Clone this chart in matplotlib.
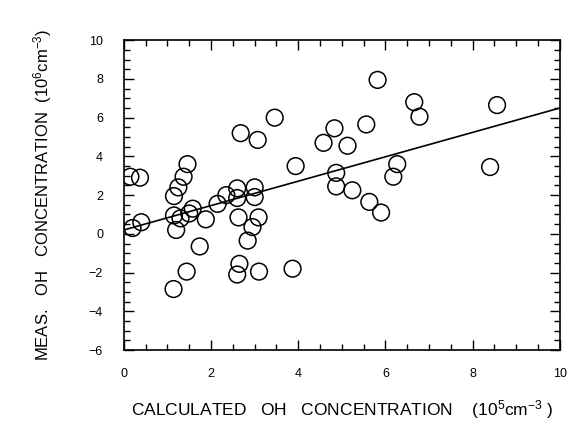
import numpy as np
import matplotlib
matplotlib.use("Agg")
import matplotlib.pyplot as plt
from matplotlib.ticker import MultipleLocator

# OH medido vs calculado, com reta de ajuste
calc_oh = [0.15, 0.37, 0.20, 0.40, 1.46, 1.37, 1.25, 1.15, 1.15, 1.30,
           1.20, 1.58, 1.50, 1.88, 2.15, 2.35, 2.60, 2.60, 3.00, 3.00,
           2.63, 3.09, 2.95, 2.84, 1.74, 1.44, 1.14, 2.65, 2.60, 3.10,
           3.87, 2.68, 3.07, 3.46, 3.94, 4.58, 4.83, 5.13, 5.56, 4.87,
           4.87, 5.24, 5.63, 5.90, 5.82, 6.66, 6.78, 8.56, 6.27, 6.18,
           8.40]
meas_oh = [2.95, 2.90, 0.30, 0.60, 3.60, 2.95, 2.40, 1.95, 0.95, 0.80,
           0.20, 1.30, 1.05, 0.75, 1.55, 2.00, 2.35, 1.85, 2.40, 1.90,
           0.85, 0.85, 0.35, -0.35, -0.65, -1.95, -2.85, -1.55, -2.10, -1.95,
           -1.80, 5.20, 4.85, 6.00, 3.50, 4.70, 5.45, 4.55, 5.65, 3.15,
           2.45, 2.25, 1.65, 1.10, 7.95, 6.80, 6.05, 6.65, 3.60, 2.95,
           3.45]

# reta de ajuste (intercepto, inclinação)
fit_b = 0.2
fit_a = 0.63

plt.rcParams["font.family"] = ["Liberation Sans", "DejaVu Sans"]
plt.rcParams["mathtext.default"] = "regular"

fig = plt.figure(figsize=(5.76, 4.37), dpi=100)
ax = fig.add_axes([0.215, 0.199, 0.757, 0.709])

ax.scatter(calc_oh, meas_oh, s=145, facecolors="none", edgecolors="black",
           linewidths=1.1, zorder=3)
xs = np.array([0, 10])
ax.plot(xs, fit_b + fit_a * xs, color="black", lw=1.2, zorder=2)

ax.set_xlim(0, 10)
ax.set_ylim(-6, 10)
ax.xaxis.set_major_locator(MultipleLocator(2))
ax.xaxis.set_minor_locator(MultipleLocator(0.5))
ax.yaxis.set_major_locator(MultipleLocator(2))
ax.yaxis.set_minor_locator(MultipleLocator(0.5))
ax.tick_params(which="both", direction="in", top=True, right=True,
               labelsize=9, width=1)
ax.tick_params(which="major", length=7)
ax.tick_params(which="minor", length=4)
ax.tick_params(axis="x", pad=13)
ax.tick_params(axis="y", pad=15)
for s in ax.spines.values():
    s.set_linewidth(1.2)

ax.set_xlabel(r"CALCULATED   OH   CONCENTRATION    (10$^5$cm$^{-3}$ )",
              fontsize=12.5, labelpad=13)
ax.set_ylabel(r"MEAS.   OH   CONCENTRATION  (10$^6$cm$^{-3}$)",
              fontsize=12, labelpad=25)

fig.savefig("out.png", dpi=100)
